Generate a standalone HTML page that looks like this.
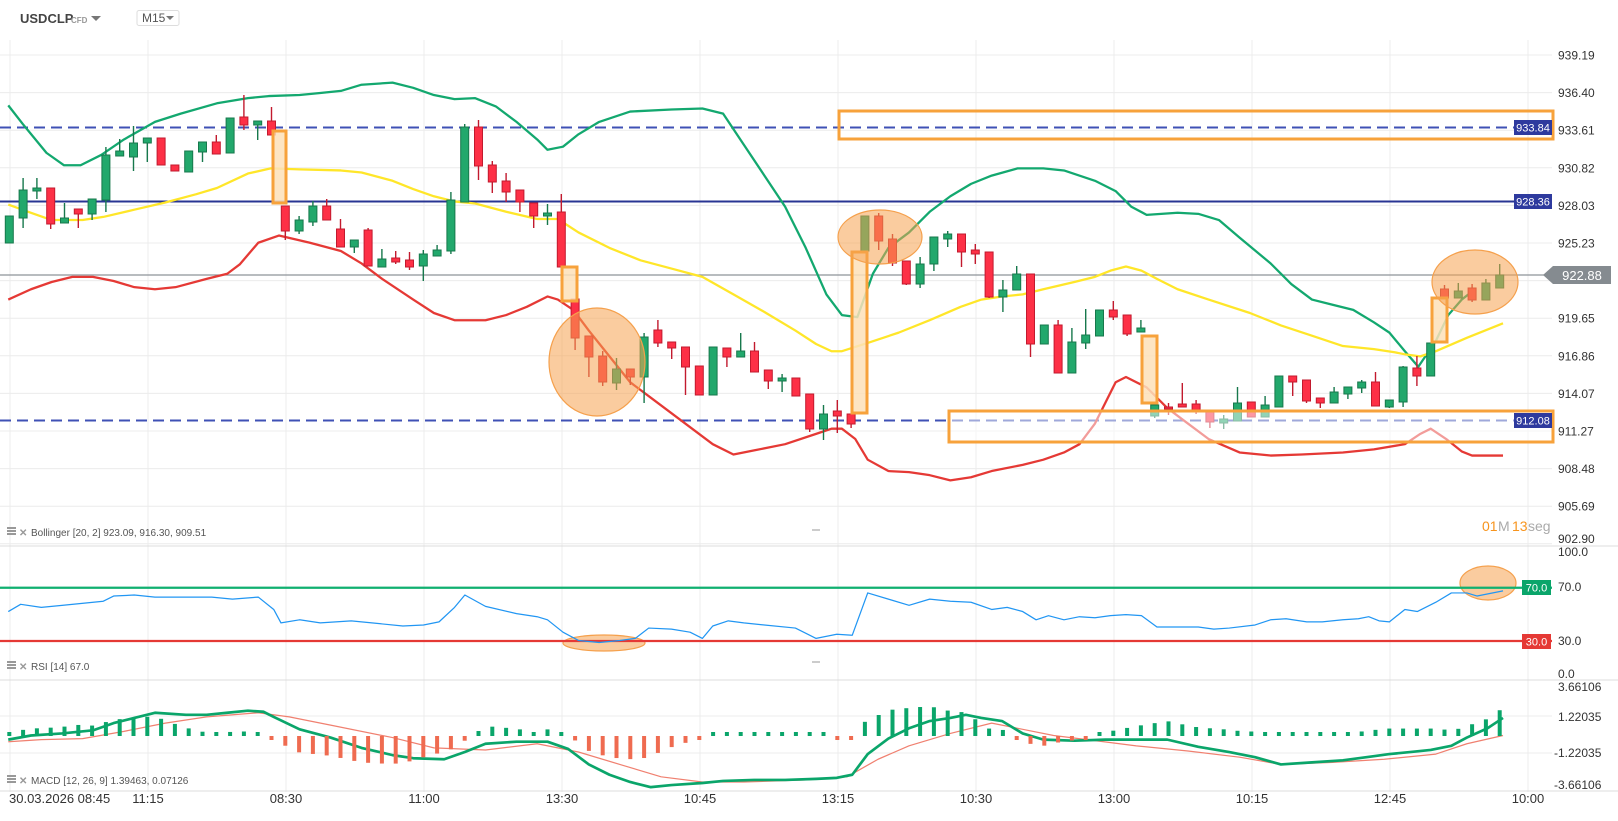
<!DOCTYPE html>
<html><head><meta charset="utf-8">
<style>
html,body{margin:0;padding:0;background:#fff;}
body{width:1618px;height:816px;overflow:hidden;font-family:"Liberation Sans",sans-serif;}
svg text{font-family:"Liberation Sans",sans-serif;}
</style></head><body>
<svg id="c" width="1618" height="816" viewBox="0 0 1618 816" xmlns="http://www.w3.org/2000/svg">
<g id="grid" stroke="#ececec" stroke-width="1"></g>
<g id="levels"></g>
<g id="bands" fill="none" transform="scale(1.033)"></g>
<g id="candles"></g>
<g id="overlays"></g>
<g id="ind" fill="none"></g>
<g id="labels" font-size="12" fill="#333"></g>
</svg>
<script>
var NS="http://www.w3.org/2000/svg";
function el(p,t,a,txt){var e=document.createElementNS(NS,t);for(var k in a)e.setAttribute(k,a[k]);if(txt!==undefined)e.textContent=txt;document.getElementById(p).appendChild(e);return e;}
for(var k=0;k<14;k++){var y=55+37.6*k;el("grid","line",{x1:0,x2:1552,y1:y,y2:y});}
for(var k=0;k<12;k++){var x=10+138*k;el("grid","line",{x1:x,x2:x,y1:40,y2:792});}
el("grid","line",{x1:0,x2:1552,y1:587,y2:587});el("grid","line",{x1:0,x2:1552,y1:716,y2:716});el("grid","line",{x1:0,x2:1552,y1:753,y2:753});
[546,680,791].forEach(function(y){el("grid","line",{x1:0,x2:1618,y1:y,y2:y,stroke:"#dcdcdc"});});
el("grid","line",{x1:812,x2:820,y1:530,y2:530,stroke:"#999"});el("grid","line",{x1:812,x2:820,y1:662,y2:662,stroke:"#999"});
el("levels","line",{x1:0,x2:1552,y1:127.5,y2:127.5,stroke:"#3f51b5","stroke-width":2,"stroke-dasharray":"11,6"});
el("levels","line",{x1:0,x2:1552,y1:201.5,y2:201.5,stroke:"#283593","stroke-width":2});
el("levels","line",{x1:0,x2:1552,y1:420.5,y2:420.5,stroke:"#3f51b5","stroke-width":2,"stroke-dasharray":"11,6"});
el("levels","line",{x1:0,x2:1552,y1:275,y2:275,stroke:"#8e9499","stroke-width":1.2});
function pl(p,pts,col,w){el(p,"polyline",{points:pts,stroke:col,"stroke-width":w,"stroke-linejoin":"round"});}
pl("bands","8,102 22,120 45,148 62,160 78,160 98,150 120,135 150,118 175,110 210,100 240,95 260,93 290,92 310,90 330,88 350,82 380,80 400,85 420,92 440,96 460,95 480,103 500,118 520,135 530,145 545,142 560,130 580,118 610,108 650,106 680,105 700,110 720,140 740,170 760,200 780,240 800,285 815,305 830,307 845,265 860,240 880,225 900,205 920,190 940,178 960,170 985,163 1010,163 1030,165 1060,175 1080,185 1095,200 1110,208 1140,206 1160,207 1180,213 1200,230 1230,255 1250,275 1270,290 1290,295 1310,300 1330,312 1345,322 1360,340 1373,355 1390,330 1402,305 1415,290 1428,280","#13a86f",2.2);
pl("bands","8,198 30,206 50,213 80,213 100,210 130,203 160,196 190,188 210,182 240,168 262,163 290,164 330,165 350,167 380,175 400,183 420,190 440,195 460,197 490,205 520,212 540,212 560,225 590,240 620,252 650,260 680,268 710,285 740,302 770,320 790,333 805,340 815,340 840,332 870,322 900,310 930,297 950,290 970,287 990,285 1010,280 1040,273 1060,268 1075,262 1090,258 1105,262 1120,270 1140,280 1170,290 1210,303 1240,315 1270,325 1300,335 1330,338 1350,341 1360,343 1375,345 1390,340 1420,327 1455,313","#ffe629",2.2);
pl("bands","8,290 30,280 50,273 70,268 90,268 110,272 130,278 150,280 170,278 200,270 220,265 232,256 250,235 270,228 300,235 330,243 350,255 370,270 400,290 420,303 440,310 470,310 490,305 510,297 530,287 540,290 555,300 570,320 590,345 610,370 630,385 650,400 670,415 690,430 710,440 730,436 760,430 790,420 805,415 815,415 828,425 840,445 860,456 880,457 900,460 920,465 940,462 960,456 990,450 1010,445 1030,438 1045,430 1060,410 1070,390 1080,370 1090,365 1110,375 1130,395 1150,410 1170,425 1200,438 1230,441 1260,440 1300,438 1330,435 1360,430 1375,420 1385,415 1400,425 1415,437 1425,441 1455,441","#e53935",2.2);
var C=[[216,243,216,243,1],[190,218,178,228,1],[188,191,178,199,1],[188,224,188,229,0],[218,223,203,223,1],[209,214,209,228,0],[199,214,199,220,1],[155,200,147,212,1],[151,156,139,156,1],[143,157,126,171,1],
[138,143,138,162,1],[138,165,138,165,0],[165,171,165,171,0],[151,172,151,172,1],[142,152,142,162,1],[142,154,135,154,0],[118,153,118,153,1],[117,125,95,130,0],[121,125,121,140,1],[121,135,107,135,0],
[206,231,206,240,0],[220,231,216,234,1],[206,222,201,226,1],[206,220,199,220,0],[229,247,219,247,0],[240,247,240,253,1],[230,266,228,266,0],[259,267,249,267,1],[258,262,251,264,0],[260,267,252,270,0],
[254,266,250,281,1],[250,256,245,256,1],[200,251,192,254,1],[127,202,124,202,1],[127,166,120,180,0],[165,182,161,193,0],[181,192,173,202,0],[190,202,190,212,0],[203,216,203,228,0],[213,216,204,225,1],
[212,267,194,267,0],[299,338,299,350,0],[336,357,336,377,0],[356,382,351,386,0],[369,383,358,390,1],[369,377,369,385,0],[337,377,333,403,1],[330,343,320,347,0],[342,348,342,359,0],[347,367,347,395,0],
[366,395,366,395,0],[347,395,347,395,1],[348,357,348,367,0],[351,357,333,357,1],[351,372,342,372,0],[370,381,370,389,0],[378,381,374,392,1],[378,396,378,396,0],[394,429,394,432,0],[414,429,405,440,1],
[411,416,400,433,0],[414,424,414,428,0],[216,251,216,251,1],[216,241,213,250,0],[239,263,234,266,0],[261,284,261,285,0],[264,284,257,288,1],[237,264,237,271,1],[234,239,231,247,1],[234,252,234,267,0],
[250,254,244,264,0],[252,297,252,298,0],[290,297,280,312,1],[274,290,266,290,1],[274,344,274,357,0],[325,344,325,344,1],[325,373,320,373,0],[342,373,328,373,1],[335,343,309,349,1],[310,336,310,336,1],
[310,317,301,320,0],[315,334,315,336,0],[328,332,320,332,1],[405,416,405,418,1],[407,409,403,415,0],[404,407,383,407,0],[404,410,400,414,0],[411,422,411,428,0],[419,423,415,429,1],[403,421,387,421,1],
[402,417,402,417,0],[405,417,396,417,1],[376,407,376,407,1],[376,382,376,396,0],[380,401,380,403,0],[398,403,398,408,0],[392,403,387,403,1],[387,394,387,399,1],[382,388,380,393,1],[382,406,372,406,0],
[400,407,400,408,1],[367,402,366,407,1],[368,376,356,386,0],[343,376,343,376,1],[289,298,285,298,0],[291,298,283,298,1],[288,300,284,302,0],[283,300,279,300,1],[275,288,264,288,1]];
C.forEach(function(d,i){var x=9.3+13.8*i;var g=d[4];var fill=g?"#22a86c":"#fd3046",st=g?"#17784c":"#c21a2e";
el("candles","line",{x1:x,x2:x,y1:d[2],y2:d[3],stroke:st,"stroke-width":1.4});
el("candles","rect",{x:x-4,y:d[0],width:8,height:Math.max(1.5,d[1]-d[0]),fill:fill,stroke:st,"stroke-width":1});});
el("overlays","rect",{x:839,y:111,width:714,height:28,fill:"none",stroke:"#f7a23b","stroke-width":3});
el("overlays","rect",{x:949,y:411,width:604,height:31,fill:"rgba(255,255,255,0.5)",stroke:"#f7a23b","stroke-width":3});
[[273,131,13,72],[562,267,15,34],[852,252,15,161],[1142,336,15,67],[1432,298,15,44]].forEach(function(b){el("overlays","rect",{x:b[0],y:b[1],width:b[2],height:b[3],fill:"rgba(253,224,185,0.85)",stroke:"#f7a23b","stroke-width":3});});
[[597,362,48,54],[880,237,42,27],[1475,282,43,32],[604,643,41,8],[1488,583,28,17]].forEach(function(e){el("overlays","ellipse",{cx:e[0],cy:e[1],rx:e[2],ry:e[3],fill:"rgba(246,162,80,0.55)",stroke:"#f5a04c","stroke-width":1.2});});
el("ind","line",{x1:0,x2:1552,y1:569*1.033,y2:569*1.033,stroke:"#10b070","stroke-width":2.2});
el("ind","line",{x1:0,x2:1552,y1:641,y2:641,stroke:"#e53935","stroke-width":2.2});
var g2=el("ind","g",{transform:"scale(1.033)"});
function pl2(pts,col,w){var e=document.createElementNS(NS,"polyline");e.setAttribute("points",pts);e.setAttribute("stroke",col);e.setAttribute("stroke-width",w);e.setAttribute("fill","none");e.setAttribute("stroke-linejoin","round");g2.appendChild(e);return e;}
pl2("8,592 20,585 40,588 60,586 100,582 110,577 130,576 150,578 180,578 205,578 225,580 250,578 265,590 272,603 290,600 310,603 340,601 360,603 390,606 410,605 425,602 440,588 450,576 470,587 500,594 520,597 530,600 545,612 560,620 580,622 600,620 615,618 628,608 650,609 668,612 680,618 690,606 705,601 720,603 740,605 770,608 790,618 810,614 825,615 840,574 860,580 880,586 900,580 920,582 940,583 960,590 975,588 990,592 1003,600 1015,596 1030,600 1045,597 1060,598 1075,596 1090,595 1105,596 1120,607 1140,607 1160,607 1175,609 1190,608 1215,605 1230,600 1245,599 1265,602 1280,602 1300,600 1315,599 1325,597 1335,601 1345,602 1360,590 1372,592 1390,583 1405,574 1420,574 1430,577 1455,572","#2196f3",1.2);
var M=[[8,716],[30,712],[60,710],[90,707],[110,700],[130,695],[150,690],[180,692],[200,692],[220,690],[240,688],[255,689],[265,694],[290,706],[320,714],[350,724],[380,731],[400,734],[430,735],[450,728],[470,720],[500,718],[530,718],[550,725],[570,740],[590,750],[610,757],[630,762],[650,760],[680,758],[700,756],[730,755],[760,755],[790,754],[810,753],[825,750],[840,730],[860,715],[880,705],[900,698],[920,695],[935,692],[950,695],[970,698],[990,710],[1010,716],[1040,717],[1070,716],[1100,716],[1130,716],[1160,723],[1190,728],[1215,733],[1240,740],[1270,738],[1300,736],[1330,732],[1345,730],[1365,728],[1385,726],[1405,722],[1420,714],[1440,705],[1455,695]];
var S=[[8,718],[40,716],[80,715],[120,708],[160,700],[200,694],[250,690],[280,694],[320,702],[380,714],[420,724],[470,726],[520,720],[560,728],[600,740],[640,752],[680,757],[720,757],[780,755],[820,752],[850,735],[880,722],[920,710],[960,700],[990,706],[1020,712],[1060,717],[1100,722],[1150,727],[1200,733],[1240,740],[1290,738],[1340,735],[1390,730],[1420,720],[1455,712]];
function interp(a,x){for(var i=0;i<a.length-1;i++){if(x>=a[i][0]&&x<=a[i+1][0]){var t=(x-a[i][0])/(a[i+1][0]-a[i][0]);return a[i][1]+t*(a[i+1][1]-a[i][1]);}}return x<a[0][0]?a[0][1]:a[a.length-1][1];}
for(var i=0;i<C.length;i++){var xa=9.3+13.8*i,xp=xa/1.033;var d=(interp(S,xp)-interp(M,xp))*1.6*1.033;var z=736;var h=Math.max(4,Math.abs(d));
el("ind","rect",{x:xa-2,y:d>0?z-h:z,width:4,height:h,fill:d>0?"#0aa56a":"#ef6b50"});}
pl2(S.map(function(p){return p.join(",")}).join(" "),"#f08070",1.2);
pl2(M.map(function(p){return p.join(",")}).join(" "),"#0aa56a",2.6);
var P=["939.19","936.40","933.61","930.82","928.03","925.23","922.44","919.65","916.86","914.07","911.27","908.48","905.69"];
P.forEach(function(t,k){if(t=="922.44")return;el("labels","text",{x:1558,y:55+37.6*k+4.5},t);});
el("labels","text",{x:1558,y:543},"902.90");
[["100.0",556],["70.0",591],["30.0",645],["0.0",678]].forEach(function(a){el("labels","text",{x:1558,y:a[1]},a[0]);});
[["3.66106",691],["1.22035",721],["-1.22035",757],["-3.66106",789]].forEach(function(a){el("labels","text",{x:a[0][0]=="-"?1554:1558,y:a[1]},a[0]);});
[["933.84",120],["928.36",194],["912.08",413]].forEach(function(a){el("labels","rect",{x:1514,y:a[1],width:38,height:15,fill:"#2e3a9e"});el("labels","text",{x:1533,y:a[1]+11.5,fill:"#fff","font-size":11,"text-anchor":"middle"},a[0]);});
el("labels","polygon",{points:"1543,275 1553,266 1611,266 1611,284 1553,284",fill:"#858b90"});
el("labels","text",{x:1582,y:280,fill:"#fff","font-size":13,"text-anchor":"middle"},"922.88");
el("labels","rect",{x:1522,y:580,width:29,height:15,fill:"#0aa56a"});el("labels","text",{x:1536.5,y:591.5,fill:"#fff","font-size":11,"text-anchor":"middle"},"70.0");
el("labels","rect",{x:1522,y:634,width:29,height:15,fill:"#e53935"});el("labels","text",{x:1536.5,y:645.5,fill:"#fff","font-size":11,"text-anchor":"middle"},"30.0");
var T=["30.03.2026 08:45","11:15","08:30","11:00","13:30","10:45","13:15","10:30","13:00","10:15","12:45","10:00"];
T.forEach(function(t,k){el("labels","text",{x:k==0?9:10+138*k,y:803,"text-anchor":k==0?"start":"middle","font-size":13},t);});
el("labels","text",{x:20,y:23,"font-size":13,"font-weight":"bold",fill:"#444"},"USDCLP");
el("labels","text",{x:71,y:23,"font-size":8,"font-weight":"bold",fill:"#999"},"CFD");
el("labels","polygon",{points:"91,16 101,16 96,21",fill:"#777"});
el("labels","rect",{x:137,y:10.5,width:42,height:15,fill:"#fff",stroke:"#ddd",rx:2});
el("labels","text",{x:142,y:22,"font-size":12,fill:"#555"},"M15");
el("labels","polygon",{points:"166,16 174,16 170,20",fill:"#777"});
[["Bollinger [20, 2] 923.09, 916.30, 909.51",536],["RSI [14] 67.0",670],["MACD [12, 26, 9] 1.39463, 0.07126",784]].forEach(function(a){
el("labels","rect",{x:7,y:a[1]-9,width:9,height:2,fill:"#999"});el("labels","rect",{x:7,y:a[1]-6,width:9,height:2,fill:"#999"});el("labels","rect",{x:7,y:a[1]-3,width:9,height:2,fill:"#999"});
el("labels","text",{x:19,y:a[1],"font-size":10,fill:"#999","font-weight":"bold"},"✕");
el("labels","text",{x:31,y:a[1],"font-size":10,fill:"#555"},a[0]);});
el("labels","text",{x:1482,y:531,"font-size":14,fill:"#f7941d"},"01");
el("labels","text",{x:1498,y:531,"font-size":14,fill:"#aaa"},"M");
el("labels","text",{x:1512,y:531,"font-size":14,fill:"#f7941d"},"13");
el("labels","text",{x:1528,y:531,"font-size":14,fill:"#aaa"},"seg");
</script>
</body></html>
